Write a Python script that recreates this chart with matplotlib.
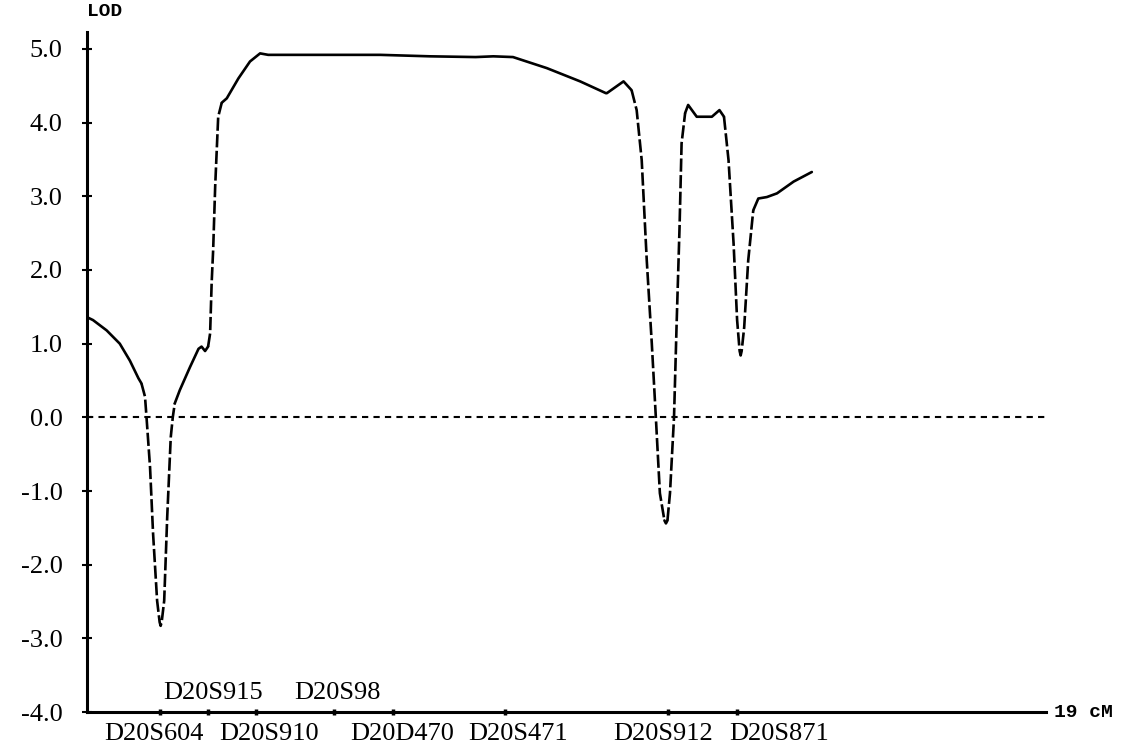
import numpy as np
import matplotlib.pyplot as plt

# posizione (cM) e valori LOD
pos_cm = [0.00, 0.12, 0.39, 0.65, 0.85, 1.02, 1.08, 1.15, 1.18, 1.25, 1.31, 1.39,
          1.44, 1.46, 1.48, 1.53, 1.59, 1.66, 1.70, 1.74, 1.84, 2.04, 2.21, 2.27,
          2.34, 2.40, 2.44, 2.47, 2.50, 2.54, 2.56, 2.60, 2.67, 2.77, 3.00, 3.23,
          3.43, 3.59, 5.81, 6.80, 7.70, 8.05, 8.44, 9.11, 9.77, 10.28, 10.30, 10.63,
          10.79, 10.89, 10.99, 11.09, 11.19, 11.27, 11.35, 11.44, 11.47, 11.50, 11.55,
          11.63, 11.68, 11.74, 11.78, 11.85, 11.91, 12.08, 12.38, 12.53, 12.62, 12.71,
          12.81, 12.88, 12.93, 12.95, 12.97, 13.02, 13.10, 13.20, 13.30, 13.47, 13.67,
          14.00, 14.36]
lod = [1.36, 1.32, 1.18, 1.00, 0.77, 0.53, 0.46, 0.28, 0.00, -0.68, -1.58, -2.49,
       -2.78, -2.83, -2.78, -2.49, -1.35, -0.27, 0.00, 0.19, 0.37, 0.68, 0.93, 0.96,
       0.90, 0.96, 1.14, 1.82, 2.27, 3.13, 3.45, 4.08, 4.27, 4.33, 4.60, 4.83,
       4.94, 4.92, 4.92, 4.90, 4.89, 4.90, 4.89, 4.74, 4.56, 4.40, 4.40, 4.56,
       4.44, 4.17, 3.49, 2.13, 1.00, 0.00, -1.03, -1.40, -1.44, -1.40, -1.03,
       0.00, 1.23, 2.59, 3.72, 4.13, 4.24, 4.08, 4.08, 4.17, 4.08, 3.49,
       2.36, 1.32, 0.90, 0.84, 0.90, 1.22, 2.13, 2.81, 2.97, 2.99, 3.04,
       3.20, 3.33]

# marcatori sull'asse x
marker_names = ['D20S604', 'D20S915', 'D20S910', 'D20S98', 'D20D470', 'D20S471', 'D20S912', 'D20S871']
marker_cm = [1.45, 2.40, 3.35, 4.89, 6.06, 8.28, 11.51, 12.88]
label_cm = [1.33, 2.50, 3.61, 4.96, 6.24, 8.54, 11.41, 13.71]
label_above = [False, True, False, True, False, False, False, False]

y_ticks = [-4.0, -3.0, -2.0, -1.0, 0.0, 1.0, 2.0, 3.0, 4.0, 5.0]

fig = plt.figure(figsize=(11.22, 7.48), dpi=100)
ax = fig.add_axes([0.0775, 0.0481, 0.8548, 0.9091])

# curva: tratti ripidi tratteggiati, tratti piatti continui
x = np.array(pos_cm)
y = np.array(lod)
steep = np.abs(np.diff(y) / np.diff(x)) > 2.0
start = 0
for i in range(1, len(steep) + 1):
    if i == len(steep) or steep[i] != steep[start]:
        ls = (0, (5, 1.3)) if steep[start] else '-'
        ax.plot(x[start:i + 1], y[start:i + 1], color='black', lw=1.9, ls=ls,
                solid_capstyle='round', solid_joinstyle='round', dash_capstyle='butt')
        start = i

# linea dello zero
ax.axhline(0, color='black', lw=1.5, ls=(0, (3, 2.5)), xmax=1.002, clip_on=False)

ax.set_xlim(0, 19)
ax.set_ylim(-4, 5.23)
for s in ['top', 'right']:
    ax.spines[s].set_visible(False)
ax.spines['left'].set_linewidth(2.2)
ax.spines['bottom'].set_linewidth(2.2)

ax.set_yticks(y_ticks)
ax.set_yticklabels(['%.1f' % v for v in y_ticks], family='Liberation Serif', fontsize=19)
ax.tick_params(axis='y', direction='inout', length=7, width=1.5, pad=14)

ax.set_xticks(marker_cm)
ax.set_xticklabels([])
ax.tick_params(axis='x', direction='inout', length=4, width=2.5)

for name, lx, up in zip(marker_names, label_cm, label_above):
    if up:
        ax.annotate(name, xy=(lx, 0), xycoords=('data', 'axes fraction'),
                    xytext=(0, 6), textcoords='offset points',
                    ha='center', va='bottom', family='Liberation Serif', fontsize=19)
    else:
        ax.annotate(name, xy=(lx, 0), xycoords=('data', 'axes fraction'),
                    xytext=(0, -8), textcoords='offset points',
                    ha='center', va='top', family='Liberation Serif', fontsize=19)

ax.annotate('LOD', xy=(0, 1), xycoords='axes fraction', xytext=(13, 15),
            textcoords='offset points', ha='center', va='center',
            family='Liberation Mono', fontweight='bold', fontsize=14)
ax.annotate('19 cM', xy=(1, 0), xycoords='axes fraction', xytext=(6, 0),
            textcoords='offset points', ha='left', va='center',
            family='Liberation Mono', fontweight='bold', fontsize=14)

fig.savefig('out.png', dpi=100)
